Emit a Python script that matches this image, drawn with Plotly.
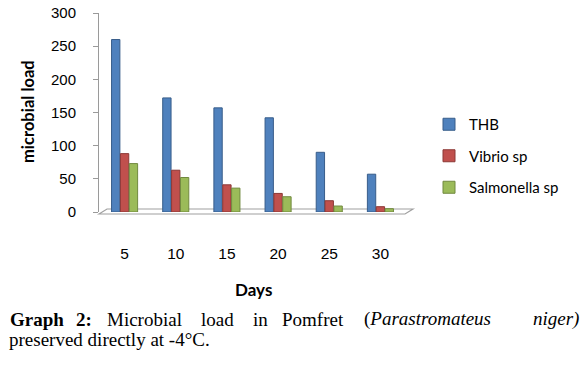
import plotly.graph_objects as go

days = ["5", "10", "15", "20", "25", "30"]
thb = [260, 172, 157, 142, 90, 57]
vibrio = [88, 63, 41, 28, 17, 8]
salmonella = [73, 52, 36, 23, 9, 5]
series_names = ["THB", "Vibrio sp", "Salmonella sp"]
y_ticks = [0, 50, 100, 150, 200, 250, 300]

colors = ["#4F81BD", "#C0504D", "#9BBB59"]
edges = ["#385D8A", "#8C3836", "#71893F"]

W, H = 588, 370
L, R, T, B = 99, 406, 13, 212


def px(x):
    return (x - L) / (R - L)


def py(y):
    return (B - y) / (B - T)


fig = go.Figure()
for name, vals, c, e in zip(series_names, [thb, vibrio, salmonella], colors, edges):
    fig.add_trace(go.Bar(
        x=days, y=vals, name=name, legendgroup=name,
        marker=dict(color=c, line=dict(color=e, width=1)),
    ))

# floor (3D platform look)
fig.add_shape(type="path", xref="paper", yref="paper",
              path=f"M {px(99)},{py(214)} L {px(107)},{py(209)} L {px(413)},{py(209)} L {px(405)},{py(214)} Z",
              line=dict(color="#A0A0A0", width=1.2), fillcolor="rgba(255,255,255,0)", layer="below")

ann = []
# axis titles
ann.append(dict(text="<b>Days</b>", x=px(253), y=py(289), xref="paper", yref="paper",
                xanchor="center", yanchor="middle",
                showarrow=False, font=dict(family="Lato, Open Sans, sans-serif", size=17, color="#000")))
ann.append(dict(text="<b>microbial load</b>", x=px(28), y=py(112), xref="paper", yref="paper",
                xanchor="center", yanchor="middle",
                textangle=-90, showarrow=False,
                font=dict(family="Lato, Open Sans, sans-serif", size=16.5, color="#000")))

cap_font = dict(family="Liberation Serif, Times New Roman, serif", size=19, color="#000")
line1 = [
    ("<b>Graph</b>", 9), ("<b>2:</b>", 75), ("Microbial", 106), ("load", 200), ("in", 252),
    ("Pomfret", 281), ("(<i>Parastromateus</i>", 363),
]
for txt, x0 in line1:
    ann.append(dict(text=txt, x=px(x0), y=py(319), xref="paper", yref="paper", xanchor="left",
                    yanchor="middle", showarrow=False, font=cap_font, borderpad=0))
ann.append(dict(text="<i>niger)</i>", x=px(580), y=py(319), xref="paper", yref="paper", xanchor="right",
                yanchor="middle", showarrow=False, font=cap_font, borderpad=0))
ann.append(dict(text="preserved directly at -4°C.", x=px(8), y=py(339), xref="paper", yref="paper",
                xanchor="left", yanchor="middle", showarrow=False, font=cap_font, borderpad=0))

fig.update_layout(
    width=W, height=H,
    margin=dict(l=L, r=W - R, t=T, b=H - B, pad=0, autoexpand=False),
    paper_bgcolor="white", plot_bgcolor="white",
    barmode="group", bargap=0.48, bargroupgap=0.06,
    showlegend=True,
    legend=dict(x=px(429), y=py(108), xanchor="left", yanchor="top", tracegroupgap=9,
                itemwidth=30,
                font=dict(family="Lato, Open Sans, sans-serif", size=15, color="#000"),
                bgcolor="rgba(0,0,0,0)"),
    xaxis=dict(showline=False, showgrid=False, zeroline=False, ticks="",
               tickfont=dict(family="Liberation Sans, Arial, sans-serif", size=15.5, color="#000"),
               ticklabelstandoff=30),
    yaxis=dict(range=[0, 300], tickvals=y_ticks, showgrid=False, zeroline=False,
               showline=True, linecolor="#9A9A9A", linewidth=1,
               ticks="outside", ticklen=5, tickcolor="#9A9A9A",
               tickfont=dict(family="Liberation Sans, Arial, sans-serif", size=15, color="#000"),
               ticklabelstandoff=14),
    annotations=ann,
)

fig.write_html("out.html", config={"displayModeBar": False},
               post_script="document.body.style.margin='0';document.body.style.padding='0';")
